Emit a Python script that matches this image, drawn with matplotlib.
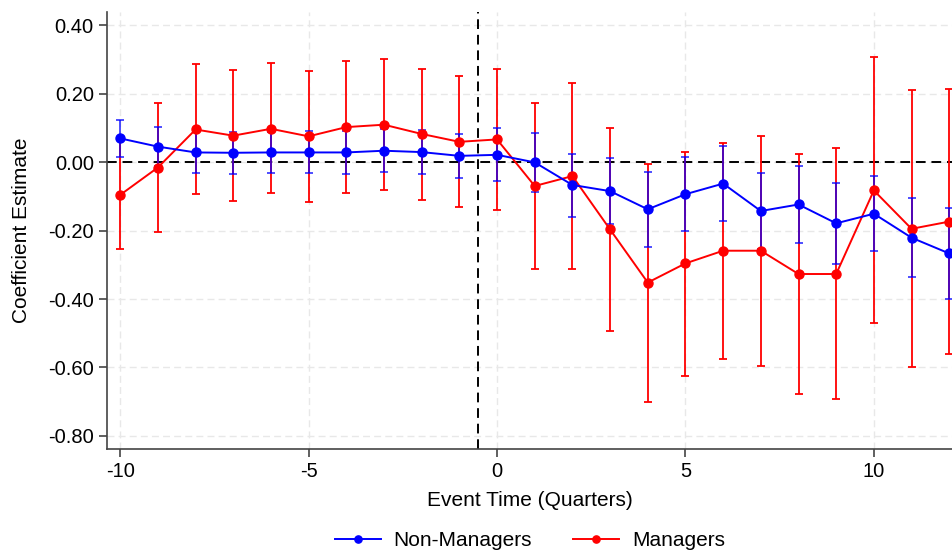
import numpy as np
import matplotlib
matplotlib.use("Agg")
import matplotlib.pyplot as plt

plt.rcParams["font.family"] = ["Liberation Sans", "DejaVu Sans"]
plt.rcParams["axes.unicode_minus"] = False

event_time = list(range(-10, 13))

# Non-managers: estimate, upper CI, lower CI
nonmgr_est = [0.069, 0.045, 0.028, 0.027, 0.028, 0.028, 0.028, 0.033, 0.029, 0.018, 0.021,
              -0.001, -0.067, -0.085, -0.138, -0.094, -0.063, -0.143, -0.124, -0.179, -0.151, -0.221, -0.267]
nonmgr_hi = [0.123, 0.103, 0.089, 0.089, 0.089, 0.090, 0.090, 0.095, 0.093, 0.081, 0.099,
             0.086, 0.024, 0.013, -0.028, 0.016, 0.048, -0.033, -0.012, -0.061, -0.040, -0.105, -0.133]
nonmgr_lo = [0.014, -0.013, -0.033, -0.035, -0.033, -0.033, -0.035, -0.030, -0.034, -0.047, -0.056,
             -0.087, -0.160, -0.181, -0.249, -0.202, -0.172, -0.253, -0.236, -0.298, -0.261, -0.335, -0.400]

# Managers
mgr_est = [-0.096, -0.016, 0.095, 0.077, 0.097, 0.075, 0.102, 0.109, 0.082, 0.059, 0.066,
           -0.070, -0.041, -0.197, -0.352, -0.296, -0.259, -0.259, -0.327, -0.327, -0.083, -0.195, -0.174]
mgr_hi = [0.064, 0.171, 0.285, 0.269, 0.289, 0.267, 0.294, 0.300, 0.273, 0.251, 0.272,
          0.173, 0.232, 0.100, -0.005, 0.030, 0.057, 0.076, 0.023, 0.041, 0.306, 0.209, 0.213]
mgr_lo = [-0.255, -0.203, -0.094, -0.115, -0.091, -0.117, -0.089, -0.081, -0.111, -0.130, -0.139,
          -0.313, -0.313, -0.493, -0.700, -0.624, -0.576, -0.595, -0.676, -0.693, -0.471, -0.599, -0.561]

y_ticks = [0.40, 0.20, 0.00, -0.20, -0.40, -0.60, -0.80]
x_ticks = [-10, -5, 0, 5, 10]

fig = plt.figure(figsize=(9.53, 5.52), dpi=100)
ax = fig.add_axes([0.1123, 0.1866, 0.8877, 0.7916])

x = np.array(event_time)

def draw(est, hi, lo, color, label, alpha):
    est = np.array(est)
    err = [est - np.array(lo), np.array(hi) - est]
    ax.errorbar(x, est, yerr=err, fmt="none", ecolor=color, elinewidth=1.3,
                capsize=3, capthick=1.3, alpha=alpha, zorder=3)
    ax.plot(x, est, color=color, lw=1.4, marker="o", ms=6.5, label=label, zorder=4)

draw(mgr_est, mgr_hi, mgr_lo, "#ff0000", "Managers", 1.0)
draw(nonmgr_est, nonmgr_hi, nonmgr_lo, "#0000ff", "Non-Managers", 0.75)

ax.axhline(0, color="black", ls=(0, (5, 3)), lw=1.4, zorder=2)
ax.axvline(-0.5, color="black", ls=(0, (5, 3)), lw=1.4, zorder=2)

ax.set_xlim(-10.35, 12.1)
ax.set_ylim(-0.838, 0.438)
ax.set_yticks(y_ticks)
ax.set_yticklabels([f"{v:.2f}" for v in y_ticks])
ax.set_xticks(x_ticks)
ax.grid(True, color="#e8e8e8", ls=(0, (5, 3)), lw=1.0, zorder=0)

for s in ["top", "right"]:
    ax.spines[s].set_visible(False)
for s in ["left", "bottom"]:
    ax.spines[s].set_color("#444444")
    ax.spines[s].set_linewidth(1.2)
ax.tick_params(labelsize=14.5, color="#444444", length=6, width=1.2)

ax.set_xlabel("Event Time (Quarters)", fontsize=15, labelpad=7)
ax.set_ylabel("Coefficient Estimate", fontsize=15, labelpad=12)

handles, labels = ax.get_legend_handles_labels()
fig.legend(handles[::-1], labels[::-1], loc="center", ncol=2, frameon=False,
           bbox_to_anchor=(0.556, 0.02), fontsize=15, handlelength=2.2,
           handletextpad=0.6, columnspacing=2.0, markerscale=0.8)

fig.savefig("out.png", dpi=100)
